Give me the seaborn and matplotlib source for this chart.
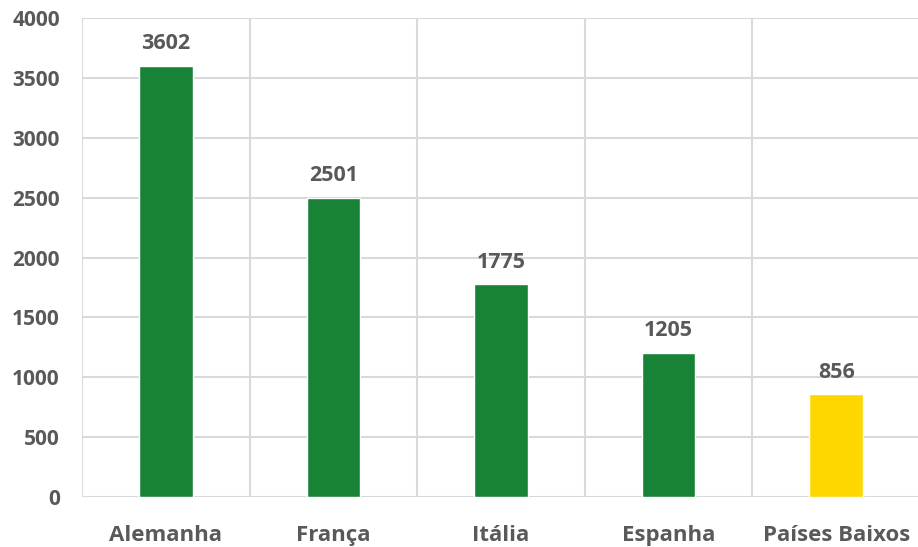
import matplotlib
matplotlib.use("Agg")
import matplotlib.pyplot as plt
import seaborn as sns
import pandas as pd
import numpy as np
from matplotlib.ticker import FixedLocator

countries = ["Alemanha", "França", "Itália", "Espanha", "Países Baixos"]
values = [3602, 2501, 1775, 1205, 856]
colors = ["#188336", "#188336", "#188336", "#188336", "#FFD700"]
yticks = [0, 500, 1000, 1500, 2000, 2500, 3000, 3500, 4000]

sns.set_theme(style="white")
plt.rcParams['font.family'] = ['Open Sans', 'DejaVu Sans']

df = pd.DataFrame({"country": countries, "value": values})

fig = plt.figure(figsize=(9.18, 5.47), dpi=100)
ax = fig.add_axes([82/918, 50/547, 838/918, 479/547])

sns.barplot(data=df, x="country", y="value", hue="country", palette=colors,
            legend=False, width=0.32, ax=ax, saturation=1)

txt = "#595959"
grid = "#d9d9d9"
ax.set_ylim(0, 4000)
ax.set_xlim(-0.5, len(countries) - 0.5)
ax.set_yticks(yticks)
ax.set_yticklabels([str(v) for v in yticks])
ax.xaxis.set_minor_locator(FixedLocator(np.arange(-0.5, len(countries), 1.0)))
ax.grid(axis="y", color=grid, linewidth=1.5)
ax.grid(axis="x", which="minor", color=grid, linewidth=1.5)
ax.set_axisbelow(True)
for s in ax.spines.values():
    s.set_visible(False)
ax.tick_params(axis="both", which="both", length=0)
ax.tick_params(axis="y", pad=16)
ax.tick_params(axis="x", pad=20)
ax.set_xlabel("")
ax.set_ylabel("")
for lbl in ax.get_yticklabels():
    lbl.set_fontsize(15); lbl.set_fontweight("bold"); lbl.set_color(txt)
for lbl in ax.get_xticklabels():
    lbl.set_fontsize(16); lbl.set_fontweight("bold"); lbl.set_color(txt)

for c in ax.containers:
    ax.bar_label(c, labels=[str(int(v)) for v in c.datavalues], padding=8.5,
                 fontsize=15.5, fontweight="bold", color=txt)

fig.savefig("out.png", dpi=100)
